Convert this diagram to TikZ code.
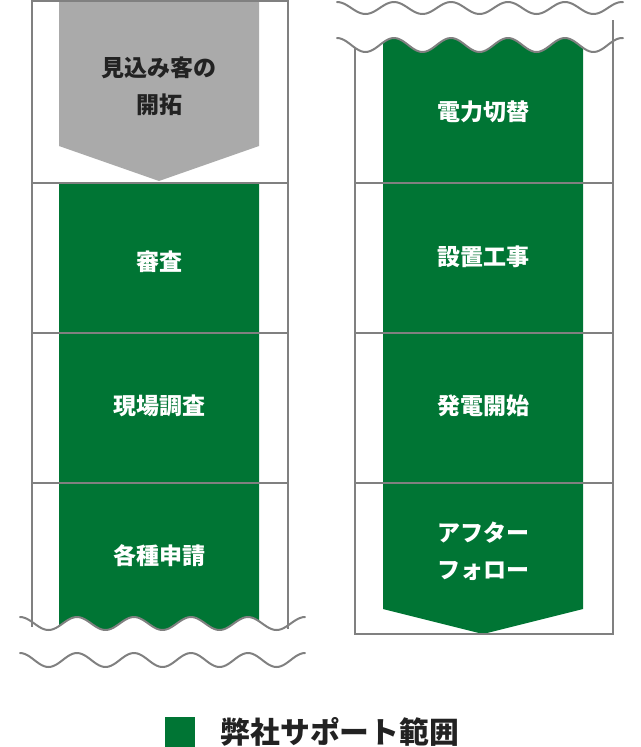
\documentclass[tikz,border=0pt]{standalone}
\usepackage{fontspec}
\setmainfont{Noto Sans CJK JP}
\usepackage{tikz}
\usetikzlibrary{positioning}
\definecolor{mygreen}{RGB}{0,117,52}
\definecolor{myline}{RGB}{128,128,128}
\definecolor{myarrow}{RGB}{170,170,170}
\definecolor{mydark}{RGB}{34,34,34}
\tikzset{
  frame/.style={draw=myline, line width=2pt},
  wave/.style={draw=myline, line width=2pt, line cap=round},
  steplabel/.style={text=white, font=\fontsize{23}{37}\selectfont\bfseries,
    align=center, inner sep=0pt},
  greylabel/.style={text=mydark, font=\fontsize{23}{37}\selectfont\bfseries,
    align=center, inner sep=0pt}
}

\begin{document}
\begin{tikzpicture}[x=1pt, y=-1pt]
  \useasboundingbox (0,0) rectangle (640,747);

  % Left column: green band cut by the wave
  \fill[mygreen] (59,184) -- (259,184) --
    plot[domain=239:39, samples=90] ({20+\x},{623.5-6.5*cos(\x/57*360)}) -- cycle;

  % Grey arrow (prospecting)
  \fill[myarrow] (59,0) -- (259,0) -- (259,146) -- (159,181) -- (59,146) -- cycle;

  % Left frame
  \draw[frame] (32,1) -- (288,1);
  \draw[frame] (32,0) -- (32,627);
  \draw[frame] (288,0) -- (288,629);
  \draw[frame] (32,183) -- (288,183);
  \draw[frame] (32,333) -- (288,333);
  \draw[frame] (32,483) -- (288,483);

  % Left break marks
  \draw[wave] plot[domain=0:285, samples=120] ({20+\x},{623.5-6.5*cos(\x/57*360)});
  \draw[wave] plot[domain=0:285, samples=120] ({20+\x},{660-7*cos(\x/57*360)});

  % Right column: green arrow below the wave
  \fill[mygreen] plot[domain=46:246, samples=90] ({337+\x},{45-7*cos(\x/57*360)}) --
    (583,609) -- (483,634) -- (383,609) -- cycle;

  % Right frame
  \draw[frame] (355,47) -- (355,634);
  \draw[frame] (613,20) -- (613,634);
  \draw[frame] (354,634) -- (614,634);
  \draw[frame] (355,183) -- (613,183);
  \draw[frame] (355,333) -- (613,333);
  \draw[frame] (355,483) -- (613,483);

  % Right break marks
  \draw[wave] plot[domain=0:286, samples=120] ({337+\x},{8-6*cos(\x/57*360)});
  \draw[wave] plot[domain=0:286, samples=120] ({337+\x},{45-7*cos(\x/57*360)});

  % Step labels
  \node[greylabel] (prospect) at (159,86.5) {見込み客の\\開拓};
  \node[steplabel] (review) at (159,262) {審査};
  \node[steplabel] (survey) at (159,406) {現場調査};
  \node[steplabel] (permit) at (159,556) {各種申請};
  \node[steplabel] (switch) at (483,112) {電力切替};
  \node[steplabel] (install) at (483,257) {設置工事};
  \node[steplabel] (start) at (483,406) {発電開始};
  \node[steplabel] (follow) at (483,551.5) {アフター\\フォロー};

  % Legend
  \fill[mygreen] (165,717) rectangle (195,747);
  \node[anchor=west, inner sep=0pt, text=mydark,
    font=\fontsize{29.8}{29.8}\selectfont\bfseries] (legend) at (220.5,732) {弊社サポート範囲};
\end{tikzpicture}
\end{document}
